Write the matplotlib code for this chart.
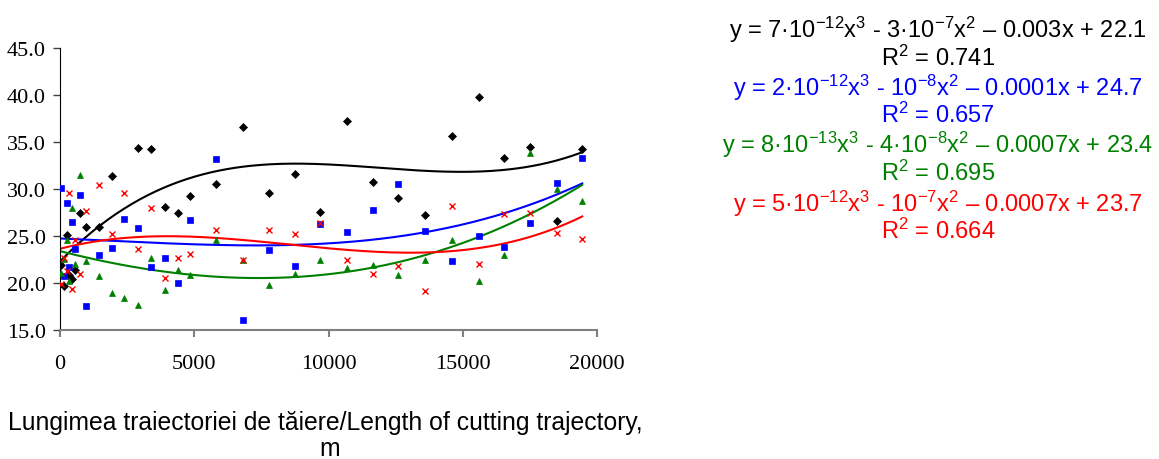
import matplotlib
matplotlib.use('Agg')
import matplotlib.pyplot as plt
from matplotlib.ticker import FormatStrFormatter
import numpy as np

# distance along cutting trajectory, m
x_all = [50, 150, 250, 350, 450, 550, 750, 950, 1450, 1950, 2400, 2900, 3400, 3900, 4400, 4850,
         5800, 6800, 7800, 8750, 9700, 10700, 11650, 12600, 13600, 14600, 15600, 16550, 17500, 18500, 19450]
x_black = [50, 150, 250, 350, 450, 550, 750, 950, 1450, 1950, 2900, 3400, 3900, 4400, 4850,
           5800, 6800, 7800, 8750, 9700, 10700, 11650, 12600, 13600, 14600, 15600, 16550, 17500, 18500, 19450]

y_black = [21.9, 19.7, 25.1, 20.85, 20.4, 21.4, 27.4, 26.0, 26.0, 31.4, 34.4, 34.3, 28.1, 27.4, 29.3,
           30.5, 36.6, 29.6, 31.6, 27.55, 37.2, 30.7, 29.0, 27.2, 35.6, 39.8, 33.3, 34.5, 26.6, 34.3]
y_blue = [30.1, 20.7, 28.5, 21.7, 26.5, 23.6, 29.4, 17.6, 23.0, 23.7, 26.8, 25.9, 21.7, 22.7, 20.0, 26.7,
          33.2, 16.1, 23.5, 21.8, 26.3, 25.4, 27.8, 30.5, 25.5, 22.3, 25.0, 23.8, 26.4, 30.6, 33.3]
y_green = [21.1, 22.6, 24.6, 20.2, 28.0, 22.0, 31.5, 22.3, 20.7, 18.9, 18.4, 17.7, 22.7, 19.3, 21.4, 20.9,
           24.6, 22.5, 19.8, 21.0, 22.45, 21.6, 21.95, 20.9, 22.5, 24.6, 20.2, 23.0, 33.8, 30.0, 28.75]
y_red = [19.9, 22.7, 21.3, 29.6, 19.4, 24.6, 21.0, 27.7, 30.4, 25.2, 29.6, 23.6, 28.0, 20.5, 22.7, 23.1,
         25.6, 22.5, 25.6, 25.25, 26.4, 22.5, 21.0, 21.8, 19.2, 28.2, 22.0, 27.3, 27.5, 25.3, 24.7]

equations = [
    'y = 7·10$^{-12}$x$^{3}$ - 3·10$^{-7}$x$^{2}$ – 0.003x + 22.1\nR$^{2}$ = 0.741',
    'y = 2·10$^{-12}$x$^{3}$ - 10$^{-8}$x$^{2}$ – 0.0001x + 24.7\nR$^{2}$ = 0.657',
    'y = 8·10$^{-13}$x$^{3}$ - 4·10$^{-8}$x$^{2}$ – 0.0007x + 23.4\nR$^{2}$ = 0.695',
    'y = 5·10$^{-12}$x$^{3}$ - 10$^{-7}$x$^{2}$ – 0.0007x + 23.7\nR$^{2}$ = 0.664',
]
eq_colors = ['black', '#0000ff', '#008000', '#ff0000']

plt.rcParams['mathtext.fontset'] = 'custom'
plt.rcParams['mathtext.rm'] = 'Liberation Sans'
plt.rcParams['mathtext.it'] = 'Liberation Sans'

fig = plt.figure(figsize=(11.59, 4.6), dpi=100)
ax = fig.add_axes([60/1159, 129/460, 537/1159, 282/460])

series = [
    (x_black, y_black, 'black', 'D', 3.8),
    (x_all, y_blue, '#0000ff', 's', 4.5),
    (x_all, y_green, '#008000', '^', 5),
    (x_all, y_red, '#ff0000', 'x', 5),
]
for xs, ys, col, mk, ms in series:
    xs = np.array(xs, dtype=float)
    ys = np.array(ys, dtype=float)
    coef = np.polyfit(xs, ys, 3)
    xf = np.linspace(xs.min(), xs.max(), 200)
    ax.plot(xf, np.polyval(coef, xf), color=col, lw=1.5, zorder=2)
for xs, ys, col, mk, ms in series:
    ax.plot(xs, ys, linestyle='none', marker=mk, color=col, markersize=ms,
            markeredgewidth=1 if mk == 'x' else 0.5, zorder=3)

ax.set_xlim(0, 20000)
ax.set_ylim(15, 45)
ax.set_xticks([0, 5000, 10000, 15000, 20000])
ax.set_yticks([15, 20, 25, 30, 35, 40, 45])
ax.yaxis.set_major_formatter(FormatStrFormatter('%.1f'))
for lab in ax.get_xticklabels() + ax.get_yticklabels():
    lab.set_family('Liberation Serif')
    lab.set_fontsize(16)
ax.spines['top'].set_visible(False)
ax.spines['right'].set_visible(False)
ax.spines['bottom'].set_color('#808080')
ax.spines['bottom'].set_linewidth(1.5)
ax.spines['left'].set_color('black')
ax.tick_params(axis='x', direction='out', length=5, width=1.5, color='#808080', pad=12)
ax.tick_params(axis='y', direction='out', length=5, width=1, color='#404040', pad=5)

fig.text(325/1159, 1 - 430/460, 'Lungimea traiectoriei de tăiere/Length of cutting trajectory,',
         ha='center', va='baseline', fontsize=17.8, family='Liberation Sans')
fig.text(330/1159, 1 - 456/460, 'm', ha='center', va='baseline', fontsize=17.8,
         family='Liberation Sans')

eq_y = [43, 100.5, 158, 216.5]
for txt, col, yy in zip(equations, eq_colors, eq_y):
    fig.text(938/1159, 1 - yy/460, txt, ha='center', va='center', fontsize=17,
             color=col, family='Liberation Sans', linespacing=1.0, multialignment='center')

fig.savefig('out.png', dpi=100)
